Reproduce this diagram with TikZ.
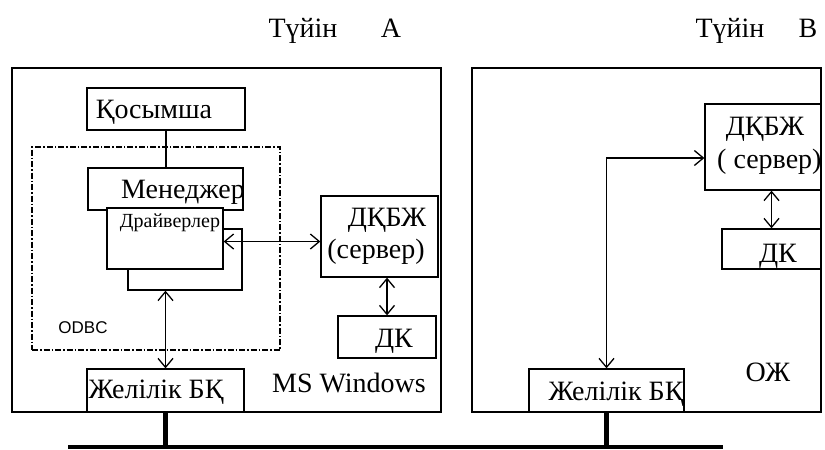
\documentclass[tikz,border=0pt]{standalone}
\usepackage{fontspec}
\setmainfont{Liberation Serif}
\setsansfont{Liberation Sans}
\usetikzlibrary{arrows.meta, positioning}

\begin{document}
\begin{tikzpicture}[x=1pt, y=-1pt,
  box/.style={draw, fill=white, line width=1.3pt, inner sep=0pt},
  frame/.style={draw, line width=1.5pt, inner sep=0pt},
  lbl/.style={inner sep=0pt, anchor=base, font=\fontsize{28}{30}\selectfont},
  smalllbl/.style={inner sep=0pt, anchor=base, font=\fontsize{20}{22}\selectfont},
  arr/.style={{Straight Barb[length=9pt, width=15pt]}-{Straight Barb[length=9pt, width=15pt]},
              line width=1.3pt},
  wire/.style={line width=5pt}]
\useasboundingbox (0,0) rectangle (825,450);

% node A
\node[frame, minimum width=429pt, minimum height=344pt] (frameA) at (226.5,240) {};
\node[draw, line width=1.2pt, dash pattern=on 6pt off 2pt on 1.5pt off 2pt,
      minimum width=248pt, minimum height=203pt] (odbc) at (156,248.5) {};
\node[box, minimum width=158pt, minimum height=42pt] (app) at (166,109) {};
\node[box, minimum width=155pt, minimum height=42pt] (mgr) at (165.5,189) {};
\node[box, minimum width=114pt, minimum height=61pt] (drv2) at (185,259.5) {};
\node[box, minimum width=116pt, minimum height=61pt] (drv) at (165,238.5) {};
\node[box, minimum width=117pt, minimum height=81pt] (dbmsA) at (379.5,236.5) {};
\node[box, minimum width=98pt, minimum height=42pt] (dkA) at (387,337) {};
\node[box, minimum width=157pt, minimum height=43pt] (netA) at (165.5,390.5) {};

% node B
\node[frame, minimum width=349pt, minimum height=344pt] (frameB) at (646.5,240) {};
\node[box, minimum width=116pt, minimum height=86pt] (dbmsB) at (763,147) {};
\node[box, minimum width=99pt, minimum height=40pt] (dkB) at (771.5,249) {};
\node[box, minimum width=155pt, minimum height=43pt] (netB) at (606.5,390.5) {};

% texts
\node[lbl] (titleA) at (303,37) {Түйін};
\node[lbl] (nameA) at (391,37) {A};
\node[lbl] (titleB) at (730,37) {Түйін};
\node[lbl] (nameB) at (808,37) {B};
\node[lbl] (appT) at (154,118) {Қосымша};
\node[lbl] (mgrT) at (183,198) {Менеджер};
\node[smalllbl] (drvT) at (170,227) {Драйверлер};
\node[lbl] (dbmsAT) at (387,226) {ДҚБЖ};
\node[lbl] (srvAT) at (376,258) {(сервер)};
\node[lbl] (dkAT) at (394,347) {ДК};
\node[inner sep=0pt, anchor=base, font=\sffamily\fontsize{17}{19}\selectfont] (odbcT) at (83,333) {ODBC};
\node[lbl] (netAT) at (156,398) {Желілік БҚ};
\node[lbl] (osAT) at (349,392) {MS Windows};
\node[lbl] (dbmsBT) at (765,135) {ДҚБЖ};
\node[lbl, anchor=base west] (srvBT) at (717,168) {( сервер)};
\node[lbl] (dkBT) at (778,262) {ДК};
\node[lbl] (netBT) at (616,400) {Желілік БҚ};
\node[lbl] (osBT) at (768,381) {ОЖ};

% connectors
\draw[line width=1.2pt] (app.south) -- (app.south |- mgr.north);
\coordinate (outA) at ([yshift=-3pt]drv.east);
\draw[arr] (outA) -- (outA -| dbmsA.west);
\draw[arr] (drv2.south -| netA.north) -- (netA.north);
\draw[arr] (dbmsA.south -| dkA.north) -- (dkA.north);
\draw[arr] (dbmsB.south -| dkB.north) -- (dkB.north);
\coordinate (inB) at ([yshift=-11pt]dbmsB.west);
\draw[arr] (netB.north) |- (inB);

% network bus
\coordinate (busL) at (68,447);
\coordinate (busR) at (723,447);
\draw[line width=4pt] (busL) -- (busR);
\draw[wire] (netA.south) -- (netA.south |- busL);
\draw[wire] (netB.south) -- (netB.south |- busL);
\end{tikzpicture}
\end{document}
